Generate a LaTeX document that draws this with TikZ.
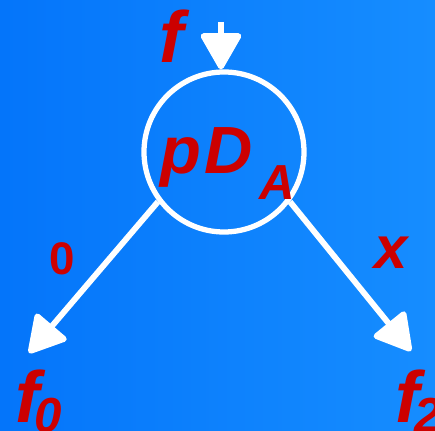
\documentclass[tikz,border=0pt]{standalone}
\usepackage{fontspec}
\setmainfont{Liberation Sans}
\usetikzlibrary{arrows.meta}
\definecolor{bgleft}{HTML}{0475FA}
\definecolor{bgright}{HTML}{168DFF}
\definecolor{labelred}{HTML}{CC0000}
\newcommand{\bigsz}{\fontsize{62pt}{62pt}\selectfont}
\newcommand{\midsz}{\fontsize{51pt}{51pt}\selectfont}
\newcommand{\subsz}{\fontsize{42pt}{42pt}\selectfont}

\begin{document}
\begin{tikzpicture}[
  x=0.03cm,y=-0.03cm,
  lbl/.style={text=labelred,inner sep=0pt,anchor=base west},
  ring/.style={circle,draw=white,line width=4.5pt,minimum size=4.8cm,inner sep=0pt},
  ar/.style={-{Triangle[length=1.18cm,width=1.3cm,round]},draw=white,line width=5pt}
]
\useasboundingbox (0,0) rectangle (435,431);
\shade[left color=bgleft,right color=bgright] (0,0) rectangle (435,431);

\node[ring] (pda) at (224,152) {};
\node[lbl] (pdatxt) at (160,174) {\fontsize{57pt}{57pt}\selectfont\bfseries\itshape p\kern3pt D\kern6pt\raisebox{-22pt}{\subsz A}};

\coordinate (ftop) at (221,22);
\coordinate (tipl) at (29,353);
\coordinate (tipr) at (411,351);

\node[lbl] (fin) at (159,63) {\bigsz\bfseries\itshape f};
\node[lbl] (fzero) at (15,423) {\bigsz\bfseries\itshape f\kern-4pt\raisebox{-8pt}{\subsz 0}};
\node[lbl] (ftwo) at (395,423) {\bigsz\bfseries\itshape f\kern-4pt\raisebox{-8pt}{\subsz 2}};
\node[lbl] (lzero) at (49,275) {\fontsize{39pt}{39pt}\selectfont\bfseries 0};
\node[lbl] (lx) at (374,269) {\midsz\bfseries\itshape x};

\draw[ar] (ftop) -- (ftop |- pda.north);
\draw[ar] (pda.217) -- (tipl);
\draw[ar] (pda.323) -- (tipr);
\end{tikzpicture}
\end{document}
